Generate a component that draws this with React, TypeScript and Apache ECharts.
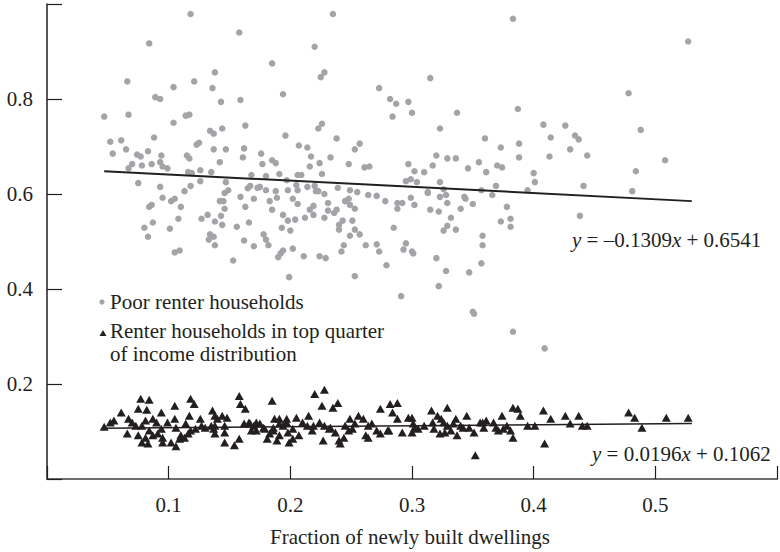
import React, { useEffect, useRef } from "react";
import * as echarts from "echarts";

// Poor renter households: [fraction of newly built dwellings, share]
const poorRenters: number[][] = [
  [0.118,0.979],[0.158,0.94],[0.084,0.917],[0.138,0.856],[0.066,0.837],[0.121,0.837],[0.104,0.825],[0.136,0.823],[0.089,0.804],[0.093,0.80],[0.143,0.794],[0.159,0.798],[0.047,0.763],[0.067,0.767],[0.104,0.75],[0.114,0.765],[0.117,0.767],[0.163,0.744],[0.088,0.719],[0.052,0.71],[0.061,0.713],[0.134,0.733],[0.137,0.727],[0.144,0.738],[0.065,0.694],[0.054,0.685],[0.074,0.683],[0.077,0.679],[0.083,0.69],[0.094,0.681],[0.123,0.704],[0.125,0.708],[0.137,0.694],[0.147,0.694],[0.162,0.696],[0.161,0.677],[0.115,0.681],[0.117,0.675],[0.07,0.663],[0.067,0.654],[0.078,0.66],[0.086,0.663],[0.093,0.667],[0.095,0.658],[0.099,0.654],[0.142,0.667],[0.116,0.646],[0.119,0.644],[0.126,0.65],[0.135,0.646],[0.168,0.64],[0.075,0.623],[0.093,0.615],[0.126,0.627],[0.113,0.606],[0.118,0.617],[0.147,0.625],[0.165,0.612],[0.167,0.617],
  [0.235,0.979],[0.383,0.969],[0.527,0.921],[0.22,0.91],[0.185,0.875],[0.228,0.856],[0.225,0.846],[0.315,0.844],[0.194,0.81],[0.273,0.823],[0.478,0.812],[0.282,0.80],[0.287,0.79],[0.297,0.794],[0.284,0.763],[0.30,0.771],[0.337,0.771],[0.387,0.779],[0.226,0.748],[0.223,0.738],[0.488,0.735],[0.323,0.738],[0.408,0.746],[0.426,0.744],[0.196,0.723],[0.238,0.717],[0.36,0.717],[0.414,0.719],[0.434,0.723],[0.437,0.715],[0.207,0.702],[0.214,0.698],[0.257,0.706],[0.253,0.694],[0.373,0.698],[0.388,0.706],[0.43,0.694],[0.176,0.685],[0.217,0.679],[0.233,0.677],[0.32,0.681],[0.329,0.675],[0.336,0.675],[0.388,0.677],[0.413,0.679],[0.444,0.681],[0.508,0.671],[0.177,0.663],[0.185,0.671],[0.188,0.665],[0.224,0.665],[0.248,0.663],[0.261,0.656],[0.265,0.658],[0.297,0.663],[0.317,0.66],[0.355,0.667],[0.37,0.66],[0.374,0.656],[0.346,0.654],[0.216,0.658],[0.226,0.642],[0.18,0.638],[0.191,0.642],[0.206,0.64],[0.209,0.64],[0.302,0.648],[0.31,0.646],[0.361,0.646],[0.40,0.644],[0.484,0.648],[0.197,0.629],[0.295,0.627],[0.299,0.631],[0.304,0.625],[0.323,0.625],[0.401,0.625],[0.175,0.615],[0.18,0.608],[0.188,0.606],[0.198,0.608],[0.205,0.619],[0.206,0.608],[0.214,0.615],[0.22,0.617],[0.223,0.606],[0.228,0.60],[0.239,0.613],[0.249,0.608],[0.255,0.604],[0.264,0.598],[0.271,0.596],[0.313,0.604],[0.326,0.61],[0.357,0.608],[0.369,0.617],[0.395,0.608],[0.441,0.617],[0.481,0.606],[0.366,0.598],[0.343,0.594],
  [0.146,0.602],[0.149,0.608],[0.084,0.573],[0.086,0.577],[0.095,0.592],[0.102,0.585],[0.105,0.59],[0.11,0.573],[0.108,0.548],[0.08,0.529],[0.087,0.54],[0.083,0.51],[0.101,0.527],[0.105,0.477],[0.109,0.481],[0.127,0.548],[0.132,0.556],[0.138,0.542],[0.143,0.554],[0.144,0.535],[0.142,0.585],[0.145,0.585],[0.146,0.569],[0.159,0.594],[0.156,0.531],[0.166,0.54],[0.163,0.573],[0.17,0.59],[0.134,0.515],[0.137,0.51],[0.133,0.504],[0.138,0.492],[0.162,0.502],[0.17,0.49],[0.178,0.515],[0.18,0.504],[0.182,0.492],[0.153,0.46],[0.19,0.467],[0.192,0.475],[0.194,0.481],[0.202,0.485],[0.211,0.469],[0.199,0.425],[0.193,0.529],[0.20,0.523],[0.194,0.556],[0.198,0.544],[0.204,0.546],[0.212,0.55],[0.219,0.556],[0.173,0.613],[0.189,0.592],[0.183,0.585],[0.185,0.567],[0.202,0.59],[0.206,0.579],[0.216,0.567],[0.219,0.575],
  [0.221,0.606],[0.278,0.585],[0.231,0.581],[0.231,0.565],[0.228,0.55],[0.238,0.567],[0.236,0.56],[0.245,0.585],[0.248,0.59],[0.249,0.577],[0.253,0.569],[0.243,0.544],[0.24,0.535],[0.24,0.525],[0.251,0.544],[0.253,0.525],[0.257,0.515],[0.249,0.512],[0.288,0.581],[0.292,0.581],[0.288,0.569],[0.299,0.592],[0.302,0.577],[0.313,0.602],[0.315,0.567],[0.322,0.563],[0.323,0.594],[0.329,0.581],[0.328,0.598],[0.344,0.59],[0.35,0.579],[0.34,0.569],[0.378,0.573],[0.332,0.55],[0.329,0.533],[0.326,0.523],[0.336,0.525],[0.373,0.542],[0.381,0.548],[0.381,0.531],[0.438,0.554],[0.285,0.529],[0.262,0.492],[0.271,0.494],[0.273,0.479],[0.279,0.45],[0.293,0.483],[0.295,0.496],[0.30,0.479],[0.301,0.475],[0.358,0.512],[0.358,0.492],[0.357,0.454],[0.32,0.465],[0.328,0.438],[0.347,0.435],[0.322,0.406],[0.253,0.427],[0.291,0.385],[0.224,0.469],[0.229,0.465],[0.244,0.492],[0.242,0.479],[0.35,0.352],[0.351,0.348],[0.383,0.31],[0.409,0.275]
];

// Renter households in top quarter of income distribution
const topQuarterRenters: number[][] = [
  [0.047,0.11],[0.052,0.119],[0.055,0.123],[0.061,0.14],[0.066,0.096],[0.067,0.127],[0.07,0.119],[0.073,0.112],[0.077,0.169],[0.084,0.167],[0.075,0.148],[0.082,0.146],[0.078,0.112],[0.075,0.092],[0.078,0.077],[0.083,0.075],[0.081,0.087],[0.087,0.092],[0.084,0.102],[0.087,0.127],[0.09,0.119],[0.081,0.123],[0.094,0.14],[0.094,0.106],[0.095,0.087],[0.095,0.077],[0.091,0.096],[0.099,0.119],[0.102,0.077],[0.106,0.069],[0.105,0.154],[0.105,0.127],[0.106,0.108],[0.109,0.085],[0.11,0.092],[0.114,0.117],[0.117,0.133],[0.118,0.169],[0.121,0.158],[0.122,0.106],[0.118,0.102],[0.116,0.096],[0.113,0.087],[0.126,0.127],[0.127,0.112],[0.13,0.108],[0.136,0.144],[0.138,0.133],[0.14,0.127],[0.135,0.112],[0.138,0.112],[0.138,0.096],[0.137,0.106],[0.144,0.133],[0.148,0.129],[0.146,0.112],[0.146,0.098],[0.146,0.077],[0.154,0.071],[0.158,0.085],[0.158,0.175],[0.159,0.158],[0.163,0.148],[0.162,0.117],[0.166,0.119],[0.17,0.112],[0.172,0.119],[0.175,0.117],[0.178,0.108],[0.172,0.102],[0.168,0.102],[0.181,0.085],[0.183,0.096],[0.186,0.102],[0.189,0.081],[0.191,0.092],[0.194,0.112],[0.198,0.098],[0.199,0.077],[0.202,0.085],[0.185,0.165],[0.187,0.127],[0.191,0.127],[0.197,0.127],[0.205,0.129],[0.21,0.119],[0.215,0.133],[0.219,0.112],
  [0.22,0.179],[0.228,0.188],[0.226,0.154],
  [0.235,0.15],[0.239,0.16],[0.224,0.119],[0.228,0.112],[0.227,0.081],[0.232,0.106],[0.237,0.098],[0.24,0.081],[0.241,0.075],[0.244,0.087],[0.245,0.112],[0.248,0.102],[0.249,0.127],[0.253,0.117],[0.256,0.133],[0.26,0.127],[0.262,0.092],[0.264,0.112],[0.271,0.102],[0.274,0.096],[0.274,0.148],[0.28,0.102],[0.282,0.158],[0.288,0.16],[0.284,0.14],[0.288,0.127],[0.292,0.098],[0.297,0.129],[0.30,0.129],[0.301,0.117],[0.30,0.098],[0.302,0.108],[0.305,0.106],[0.31,0.112],[0.316,0.144],[0.317,0.119],[0.321,0.133],[0.323,0.096],[0.324,0.127],[0.326,0.119],[0.329,0.15],[0.329,0.112],[0.332,0.102],[0.337,0.092],[0.336,0.127],[0.34,0.112],[0.345,0.133],[0.347,0.108],[0.351,0.098],[0.352,0.05],[0.356,0.119],[0.359,0.108],[0.361,0.123],[0.367,0.119],[0.374,0.133],[0.371,0.102],[0.375,0.106],[0.378,0.112],[0.381,0.102],[0.383,0.087],[0.383,0.15],[0.387,0.148],[0.389,0.133],[0.395,0.112],[0.401,0.112],[0.408,0.144],[0.409,0.075],[0.414,0.127],[0.426,0.133],[0.43,0.117],[0.437,0.133],[0.44,0.112],[0.444,0.112],[0.478,0.14],[0.483,0.129],[0.489,0.108],[0.509,0.129],[0.527,0.129],
  [0.167,0.117],[0.179,0.106],[0.186,0.108],[0.191,0.117],[0.197,0.119],[0.202,0.106],[0.207,0.092],[0.214,0.112],[0.218,0.102],[0.233,0.108],[0.251,0.106],[0.264,0.087],[0.267,0.117],[0.281,0.102],[0.318,0.106],[0.327,0.098],[0.334,0.117],[0.342,0.108],[0.358,0.119],[0.369,0.108]
];

// Fitted trend lines (end points)
const poorFit: number[][] = [[0.047, 0.648], [0.53, 0.585]];
const topFit: number[][] = [[0.045, 0.107], [0.53, 0.1166]];

const xTicks = [0.1, 0.2, 0.3, 0.4, 0.5];
const yTicks = [0.2, 0.4, 0.6, 0.8];

const poorEquation = "{i|y} = \u20130.1309{i|x} + 0.6541";
const topEquation = "{i|y} = 0.0196{i|x} + 0.1062";
const legendPoor = "Poor renter households";
const legendTop = "Renter households in top quarter\nof income distribution";

const FONT = "Liberation Serif";
const FS = 21;
const INK = "#231f20";
const GRAY = "#a2a4a7";

export default function App() {
  const ref = useRef<HTMLDivElement>(null);
  useEffect(() => {
    if (!ref.current) return;
    const chart = echarts.init(ref.current, null, { renderer: "svg" });
    const fmt = (list: number[]) => (v: number) => {
      const hit = list.find((t) => Math.abs(t - v) < 1e-6);
      return hit === undefined ? "" : hit.toFixed(1);
    };
    const txt = (text: string, x: number, y: number, rich?: boolean, lineHeight = 21) => ({
      type: "text", x, y,
      style: {
        text, fontFamily: FONT, fontSize: FS, fill: INK, verticalAlign: "middle", lineHeight,
        ...(rich ? { rich: { i: { fontStyle: "italic", fontFamily: FONT, fontSize: FS, fill: INK } } } : {}),
      },
    });
    chart.setOption({
      animation: false,
      grid: { left: 47, right: -7, top: 4, bottom: 68 },
      xAxis: [
        {
          type: "value", min: 0, max: 0.6, interval: 0.1,
          axisLine: { onZero: false, lineStyle: { color: INK, width: 1.5 } },
          axisTick: { inside: true, length: 13, lineStyle: { color: INK, width: 1.2 } },
          axisLabel: { formatter: fmt(xTicks), fontFamily: FONT, fontSize: FS, color: INK, margin: 15 },
          splitLine: { show: false },
          name: "Fraction of newly built dwellings",
          nameLocation: "middle", nameGap: 47,
          nameTextStyle: { fontFamily: FONT, fontSize: FS, color: INK, padding: [0, 4, 0, 0] },
        },
        {
          type: "value", position: "top", min: 0, max: 0.6,
          axisLine: { lineStyle: { color: "#6d6e71", width: 2 } },
          axisTick: { show: false }, axisLabel: { show: false }, splitLine: { show: false },
        },
      ],
      yAxis: {
        type: "value", min: 0, max: 1, interval: 0.2,
        axisLine: { onZero: false, lineStyle: { color: INK, width: 1.5 } },
        axisTick: { inside: true, length: 15, lineStyle: { color: INK, width: 1.2 } },
        axisLabel: { formatter: fmt(yTicks), fontFamily: FONT, fontSize: FS, color: INK, margin: 14 },
        splitLine: { show: false },
      },
      series: [
        {
          type: "scatter", data: poorRenters, symbol: "circle", symbolSize: 6.5,
          itemStyle: { color: GRAY, opacity: 1 }, z: 2,
        },
        {
          type: "line", data: poorFit, symbol: "none",
          lineStyle: { color: INK, width: 2 }, z: 3,
        },
        {
          type: "line", data: topFit, symbol: "none",
          lineStyle: { color: INK, width: 1.5 }, z: 3,
        },
        {
          type: "scatter", data: topQuarterRenters, symbol: "triangle", symbolSize: [9, 8],
          itemStyle: { color: INK, opacity: 1 }, z: 4,
        },
      ],
      graphic: [
        { type: "circle", shape: { cx: 102, cy: 302, r: 2.6 }, style: { fill: GRAY } },
        txt(legendPoor, 110, 302),
        { type: "polygon", shape: { points: [[99.5, 336], [106.5, 336], [103, 330]] }, style: { fill: INK } },
        txt(legendTop, 110, 342.5, false, 23),
        txt(poorEquation, 572, 240, true),
        txt(topEquation, 592, 454, true),
      ],
    });
    return () => chart.dispose();
  }, []);
  return <div ref={ref} style={{ width: 780, height: 552, position: "absolute", left: 0, top: 0 }} />;
}
